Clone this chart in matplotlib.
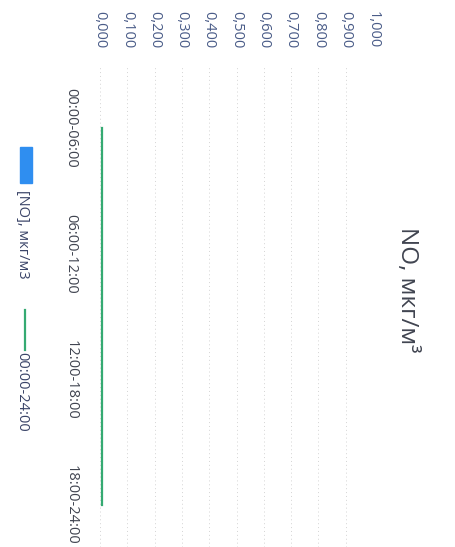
import matplotlib
matplotlib.use("Agg")
import matplotlib.pyplot as plt
from matplotlib.patches import Rectangle
from matplotlib.lines import Line2D
import numpy as np

categories = ["00:00-06:00", "06:00-12:00", "12:00-18:00", "18:00-24:00"]
bar_values = [0.0, 0.0, 0.0, 0.0]
line_values = [0.008, 0.008, 0.008, 0.008]
value_ticks = [0.0, 0.1, 0.2, 0.3, 0.4, 0.5, 0.6, 0.7, 0.8, 0.9, 1.0]
tick_labels = ["0,000", "0,100", "0,200", "0,300", "0,400", "0,500",
               "0,600", "0,700", "0,800", "0,900", "1,000"]
title = "NO, мкг/м³"
bar_label = "[NO], мкг/м3"
line_label = "00:00-24:00"

plt.rcParams['font.family'] = ['Open Sans', 'DejaVu Sans']

W, H = 455, 547
fig = plt.figure(figsize=(W / 100, H / 100), dpi=100)
fig.patch.set_facecolor("white")

ax = fig.add_axes([100 / W, 0.0, 273 / W, (H - 65) / H])
pos = np.arange(len(categories))
bar_color = "#2f8ef0"
line_color = "#35aa72"
ax.barh(pos, bar_values, height=0.5, color=bar_color)
ax.plot(line_values, pos, color=line_color, lw=1.6)

ax.set_xlim(0, 1.0)
ax.set_ylim(3.333, -0.5)
for s in ax.spines.values():
    s.set_visible(False)
ax.xaxis.tick_top()
ax.set_xticks(value_ticks)
ax.set_xticklabels(tick_labels, rotation=-90, fontsize=10.5, color="#4a5c88")
ax.set_yticks(pos)
ax.set_yticklabels(categories, rotation=-90, fontsize=10.5, color="#404450",
                   va="center")
ax.tick_params(axis="x", length=0, pad=12)
ax.tick_params(axis="y", length=0, pad=15.5)
ax.grid(axis="x", color="#d4d4d4", lw=0.7, ls=(0, (1, 3)))
ax.set_axisbelow(True)

fig.text(407 / W, (H - 290) / H, title, rotation=-90, fontsize=17.5,
         color="#404450", ha="center", va="center")

# legend
fig.patches.append(Rectangle((20 / W, (H - 183) / H), 12 / W, 36 / H,
                             transform=fig.transFigure, color=bar_color))
fig.text(22 / W, (H - 190) / H, bar_label, rotation=-90, fontsize=10.5,
         color="#3a4468", ha="center", va="top")
fig.lines.append(Line2D([25 / W, 25 / W], [(H - 310) / H, (H - 350) / H],
                        transform=fig.transFigure, color=line_color, lw=1.6))
fig.text(22 / W, (H - 352) / H, line_label, rotation=-90, fontsize=10.5,
         color="#3a4468", ha="center", va="top")

fig.savefig("out.png", dpi=100)
